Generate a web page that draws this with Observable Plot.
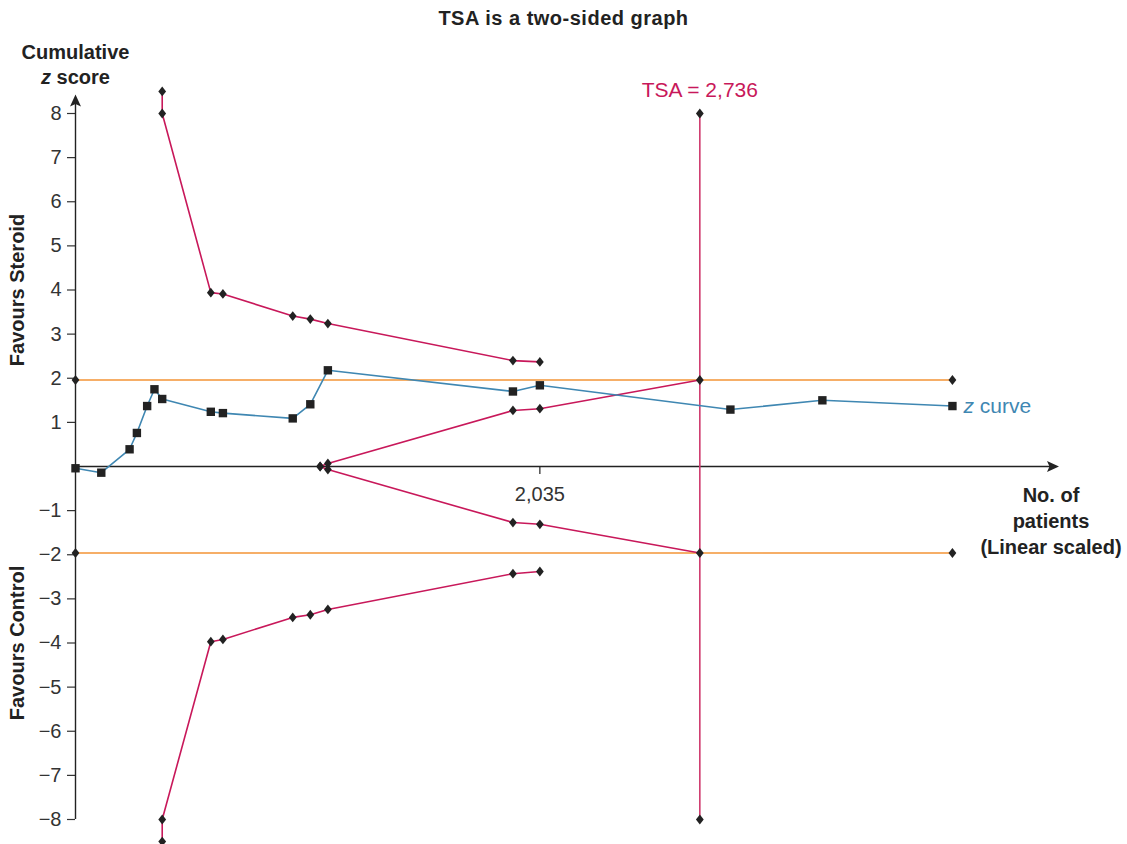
<!DOCTYPE html>
<html>
<head>
<meta charset="utf-8">
<script src="https://cdn.jsdelivr.net/npm/d3@7"></script>
<script src="https://cdn.jsdelivr.net/npm/@observablehq/plot@0.6"></script>
<style>
  body { margin: 0; background: #fff; }
  #title { height: 40px; line-height: 40px; text-align: center; font: bold 20px 'Liberation Sans', Arial, sans-serif; color: #222; letter-spacing: 0.5px; position: relative; top: 7px; }
  #chart svg { display: block; overflow: visible; }
</style>
</head>
<body>
<div id="title"></div>
<div id="chart"></div>
<script>
// ---- Data ----
const titleText = "TSA is a two-sided graph";
// cumulative number of patients at each analysis
const patients = [0, 113, 237, 269, 314, 346, 380, 593, 646, 952, 1029, 1106, 1917, 2035, 2870, 3273, 3843];
// cumulative z score (z curve)
const zCurve = [-0.04, -0.14, 0.39, 0.76, 1.37, 1.75, 1.53, 1.24, 1.21, 1.09, 1.41, 2.18, 1.70, 1.84, 1.29, 1.50, 1.37];
// trial sequential monitoring (efficacy) boundaries
const effX = [380, 380, 593, 646, 952, 1029, 1106, 1917, 2035];
const effUpper = [8.5, 8.0, 3.94, 3.91, 3.41, 3.34, 3.24, 2.40, 2.37];
const effLower = [-8.5, -8.0, -3.97, -3.92, -3.42, -3.36, -3.24, -2.43, -2.38];
// futility (inner wedge) boundaries
const futX = [1072, 1106, 1917, 2035, 2736];
const futUpper = [0, 0.07, 1.27, 1.31, 1.96];
const futLower = [0, -0.07, -1.27, -1.31, -1.96];
// conventional boundaries
const convX = [0, 3843];
const convUpper = [1.96, 1.96];
const convLower = [-1.96, -1.96];
// required information size
const tsa = 2736;
const tsaZ = [-8, 8];
// ticks
const yTicks = [8, 7, 6, 5, 4, 3, 2, 1, -1, -2, -3, -4, -5, -6, -7, -8];
const xTicks = [2035];
// axis extents
const xDomain = [0, 4310];
const yDomain = [-8, 8];
const yAxisTop = 8.43;
const xAxisEnd = 4310;

// ---- styles ----
const RED = "#c8185a";
const BLUE = "#3f87b2";
const ORANGE = "#f39436";
const INK = "#222";
const FONT = "'Liberation Sans', Arial, sans-serif";

const diamond = {draw(ctx) { ctx.moveTo(0, -4.9); ctx.lineTo(3.9, 0); ctx.lineTo(0, 4.9); ctx.lineTo(-3.9, 0); ctx.closePath(); }};
const square = {draw(ctx) { ctx.rect(-4.2, -4.2, 8.4, 8.4); }};
const arrowHead = {draw(ctx) { ctx.moveTo(0, 0); ctx.lineTo(-5.5, 12); ctx.lineTo(0, 9.5); ctx.lineTo(5.5, 12); ctx.closePath(); }};

const zData = patients.map((n, i) => ({n, z: zCurve[i]}));
const effU = effX.map((n, i) => ({n, z: effUpper[i]}));
const effL = effX.map((n, i) => ({n, z: effLower[i]}));
const futU = futX.map((n, i) => ({n, z: futUpper[i]}));
const futL = futX.map((n, i) => ({n, z: futLower[i]}));
const convU = convX.map((n, i) => ({n, z: convUpper[i]}));
const convL = convX.map((n, i) => ({n, z: convLower[i]}));
const tsaPts = tsaZ.map(z => ({n: tsa, z}));
const allDiamonds = [...effU, ...effL, ...futU, ...futL, ...convU, ...convL, ...tsaPts];

const fmtY = d => d < 0 ? "\u2212" + Math.abs(d) : String(d);
const fmtComma = d3.format(",");

document.getElementById("title").textContent = titleText;

const chart = Plot.plot({
  width: 1127,
  height: 804,
  marginLeft: 75,
  marginRight: 68.5,
  marginTop: 73,
  marginBottom: 25,
  x: {domain: xDomain, axis: null},
  y: {domain: yDomain, axis: null},
  style: {fontFamily: FONT, fontSize: "18px", color: INK, background: "white", overflow: "visible"},
  marks: [
    // axes
    Plot.axisY(yTicks, {tickSize: 8, tickPadding: 6, tickFormat: fmtY, fontSize: 20, color: "#333", strokeWidth: 1.2, label: null}),
    Plot.ruleX([0], {y1: yDomain[0], y2: yAxisTop - 0.2, stroke: INK, strokeWidth: 1.4}),
    Plot.dot([0], {x: 0, y: yAxisTop, symbol: arrowHead, fill: INK, stroke: null}),
    Plot.ruleY([0], {x1: 0, x2: xAxisEnd - 30, stroke: INK, strokeWidth: 1.4}),
    Plot.dot([0], {x: xAxisEnd, y: 0, symbol: arrowHead, rotate: 90, fill: INK, stroke: null}),
    Plot.ruleX(xTicks, {x: d => d, y1: 0, y2: 0, insetTop: 0, insetBottom: -8, stroke: INK, strokeWidth: 1.2}),
    Plot.text(xTicks, {x: d => d, y: 0, dy: 28, text: d => fmtComma(d), fontSize: 20, fill: "#333"}),
    // boundaries
    Plot.line(convU, {x: "n", y: "z", stroke: ORANGE, strokeWidth: 1.6}),
    Plot.line(convL, {x: "n", y: "z", stroke: ORANGE, strokeWidth: 1.6}),
    Plot.line(effU, {x: "n", y: "z", stroke: RED, strokeWidth: 1.6}),
    Plot.line(effL, {x: "n", y: "z", stroke: RED, strokeWidth: 1.6}),
    Plot.line(futU, {x: "n", y: "z", stroke: RED, strokeWidth: 1.6}),
    Plot.line(futL, {x: "n", y: "z", stroke: RED, strokeWidth: 1.6}),
    Plot.ruleX([tsa], {x: d => d, y1: tsaZ[0], y2: tsaZ[1], stroke: "#cf3a6e", strokeWidth: 1.6}),
    // z curve
    Plot.line(zData, {x: "n", y: "z", stroke: BLUE, strokeWidth: 1.6}),
    Plot.dot(allDiamonds, {x: "n", y: "z", symbol: diamond, fill: INK, stroke: null}),
    Plot.dot(zData, {x: "n", y: "z", symbol: square, fill: INK, stroke: null}),
    // annotations
    Plot.text(["z curve"], {x: patients[patients.length - 1], y: zCurve[zCurve.length - 1], dx: 11, textAnchor: "start", fill: BLUE, fontSize: 21}),
    Plot.text([tsa], {x: d => d, y: tsaZ[1], dy: -23, text: d => "TSA = " + fmtComma(d), fill: RED, fontSize: 21}),
    Plot.text(["Cumulative"], {x: 0, y: yDomain[1], dy: -61, fontSize: 20, fontWeight: "bold", fill: INK}),
    Plot.text(["z score"], {x: 0, y: yDomain[1], dy: -36, fontSize: 20, fontWeight: "bold", fill: INK}),
    Plot.text(["Favours Steroid"], {x: 0, y: 4, dx: -58, rotate: -90, fontSize: 20, fontWeight: "bold", fill: INK}),
    Plot.text(["Favours Control"], {x: 0, y: -4, dx: -58, rotate: -90, fontSize: 20, fontWeight: "bold", fill: INK}),
    Plot.text(["No. of\npatients\n(Linear scaled)"], {x: xAxisEnd, y: 0, dx: -8, dy: 53, lineHeight: 1.3, fontSize: 20, fontWeight: "bold", fill: INK})
  ]
});

// italic "z" in labels
const NS = "http://www.w3.org/2000/svg";
chart.querySelectorAll("text").forEach(t => {
  if (t.childNodes.length === 1 && t.firstChild.nodeType === 3 && t.textContent.startsWith("z ")) {
    const rest = t.textContent.slice(1);
    t.textContent = "";
    const em = document.createElementNS(NS, "tspan");
    em.setAttribute("font-style", "italic");
    em.textContent = "z";
    t.appendChild(em);
    t.appendChild(document.createTextNode(rest));
  }
});

document.getElementById("chart").appendChild(chart);
</script>
</body>
</html>
